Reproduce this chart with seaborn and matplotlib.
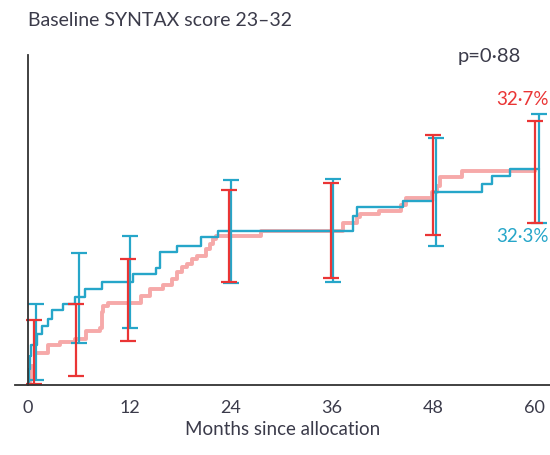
import numpy as np
import pandas as pd
import seaborn as sns
import matplotlib.pyplot as plt

# Kaplan-Meier style cumulative event curves (%)
blue_months = [0, 0.1, 0.2, 0.4, 1.0, 1.6, 2.4, 2.8, 4.1, 5.5, 6.7, 8.7, 12.4, 15.2, 15.6,
               17.6, 20.5, 22.5, 38.5, 38.9, 44.4, 48.0, 53.7, 54.9, 57.1, 60.5]
blue_pct = [0, 2.4, 4.4, 6.0, 7.7, 9.0, 10.0, 11.3, 12.3, 13.3, 14.5, 15.6, 16.8, 17.8, 20.1,
            21.1, 22.4, 23.4, 25.6, 26.9, 27.9, 29.2, 30.5, 31.7, 32.8, 32.8]

red_months = [0, 0.2, 0.4, 0.8, 2.4, 3.8, 5.5, 6.9, 8.5, 8.7, 8.9, 9.5, 13.4, 14.4, 16.0,
              17.0, 17.6, 18.2, 18.8, 19.4, 20.0, 21.1, 21.5, 21.9, 22.3, 27.6, 37.3, 39.0,
              39.3, 41.5, 44.2, 44.8, 47.8, 48.4, 48.8, 51.4, 60.0]
red_pct = [0, 0.9, 2.9, 4.9, 6.0, 6.5, 7.0, 8.2, 8.7, 11.0, 12.0, 12.5, 13.5, 14.6, 15.1,
           16.1, 17.1, 17.9, 18.4, 19.1, 19.6, 20.6, 21.4, 22.1, 22.6, 23.4, 24.6, 25.4,
           25.9, 26.4, 27.2, 28.4, 29.2, 30.2, 31.5, 32.4, 32.4]

# 95% CI bars
blue_err_x = [0.9, 6.0, 12.1, 24.0, 36.1, 48.3, 60.5]
blue_lo = [0.8, 6.4, 8.6, 15.5, 15.6, 21.0, 24.5]
blue_hi = [12.2, 20.0, 22.6, 31.1, 31.2, 37.4, 41.0]
red_err_x = [0.7, 5.7, 11.8, 23.8, 35.9, 48.0, 60.0]
red_lo = [0.2, 1.4, 6.7, 15.6, 16.2, 22.7, 24.5]
red_hi = [9.9, 12.2, 19.1, 29.5, 30.6, 37.9, 40.0]

x_ticks = [0, 12, 24, 36, 48, 60]
y_ticks = [0, 25, 50]

BLUE = '#26a6c9'
RED_LINE = '#f59a9a'
RED = '#ea3535'
TXT = '#3b3b4a'

sns.set_style('white')
plt.rcParams['font.family'] = ['Lato', 'DejaVu Sans']

fig = plt.figure(figsize=(5.5, 4.56), dpi=100)
ax = fig.add_axes([0.028, 0.1535, 0.972, 0.7526])

blue_df = pd.DataFrame({'month': blue_months, 'pct': blue_pct})
red_df = pd.DataFrame({'month': red_months, 'pct': red_pct})

sns.lineplot(data=red_df, x='month', y='pct', ax=ax, color=RED_LINE, lw=2.8, alpha=0.85,
             drawstyle='steps-post', estimator=None, sort=False)
sns.lineplot(data=blue_df, x='month', y='pct', ax=ax, color=BLUE, lw=1.7,
             drawstyle='steps-post', estimator=None, sort=False)

def ci_bars(xs, lo, hi, color):
    lo = np.array(lo)
    hi = np.array(hi)
    mid = (lo + hi) / 2
    ax.errorbar(xs, mid, yerr=[mid - lo, hi - mid], fmt='none', ecolor=color,
                elinewidth=1.6, capsize=5.5, capthick=1.6)

ci_bars(blue_err_x, blue_lo, blue_hi, BLUE)
ci_bars(red_err_x, red_lo, red_hi, RED)

ax.set_xlim(-1.5, 61.8)
ax.set_ylim(0, 52)
ax.set_xticks(x_ticks)
ax.set_xticklabels([str(t) for t in x_ticks], fontsize=13, color=TXT)
ax.set_yticks(y_ticks)
ax.set_yticklabels([])
ax.tick_params(axis='both', direction='out', length=7, width=1.3, color='#333333')
ax.tick_params(axis='x', pad=3)

for s in ['top', 'right']:
    ax.spines[s].set_visible(False)
ax.spines['left'].set_position(('data', 0))
ax.spines['left'].set_bounds(0, 50)
for s in ['left', 'bottom']:
    ax.spines[s].set_color('#333333')
    ax.spines[s].set_linewidth(1.3)

ax.set_xlabel('Months since allocation', fontsize=13.5, color=TXT, labelpad=4)
ax.set_ylabel('')

fig.text(0.051, 0.955, 'Baseline SYNTAX score 23–32', fontsize=14, color=TXT,
         ha='left', va='center')
ax.text(0.945, 0.96, 'p=0·88', transform=ax.transAxes, fontsize=14.5, color=TXT,
        ha='right', va='center')
ax.text(0.997, 0.835, '32·7%', transform=ax.transAxes, fontsize=13.5, color=RED,
        ha='right', va='center')
ax.text(0.997, 0.435, '32·3%', transform=ax.transAxes, fontsize=13.5, color=BLUE,
        ha='right', va='center')

fig.savefig('out.png', dpi=100)
